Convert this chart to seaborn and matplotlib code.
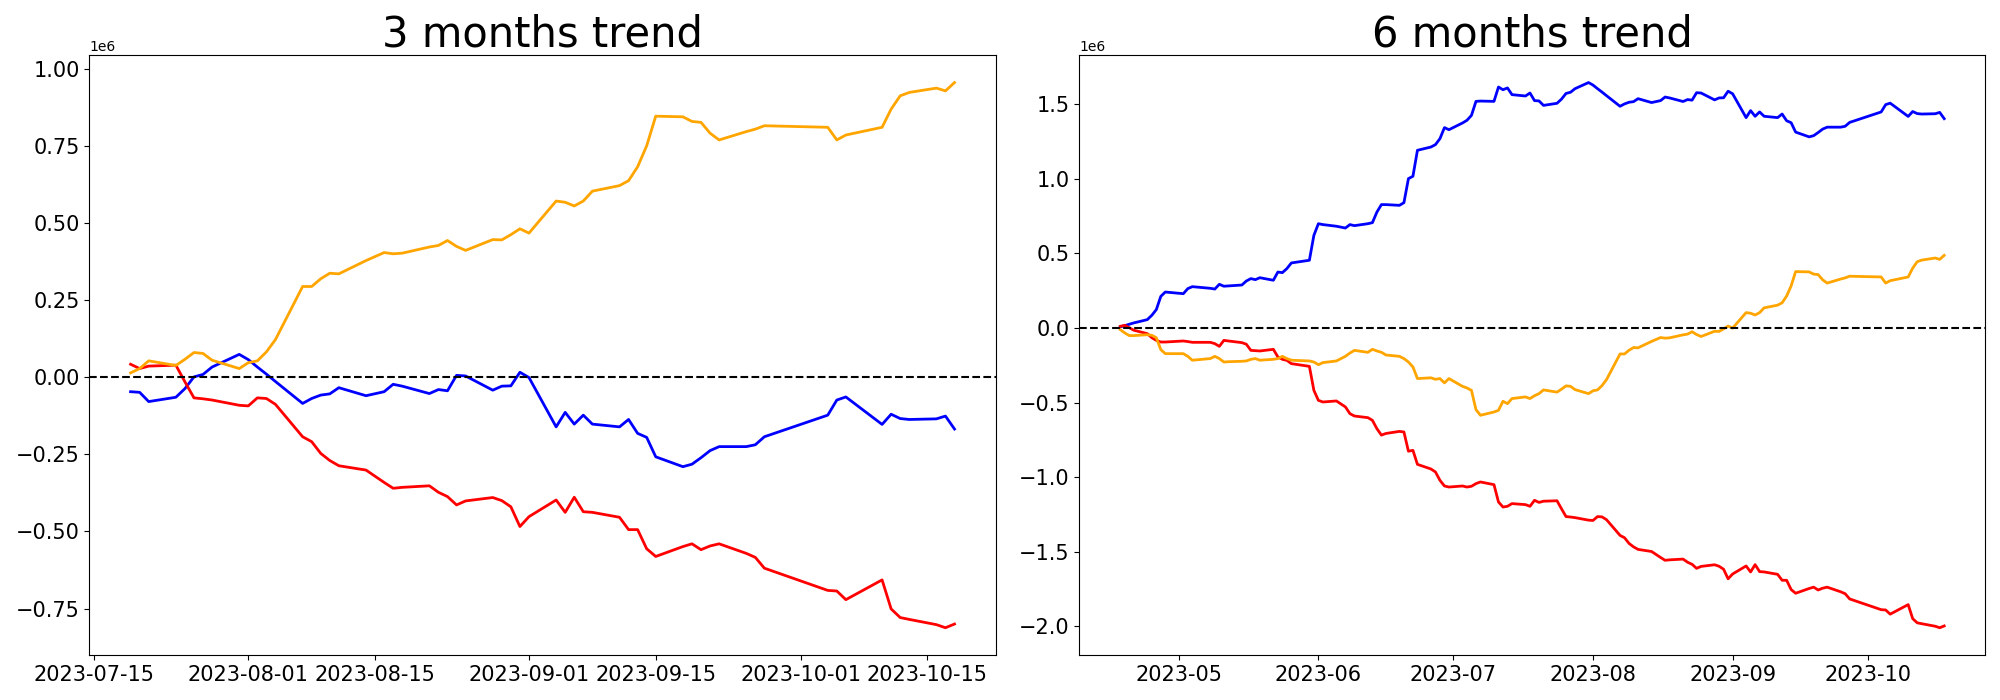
import numpy as np
import pandas as pd
import matplotlib
matplotlib.use("Agg")
import matplotlib.pyplot as plt
import seaborn as sns

# Korean exchange (KRX) trading calendar: holidays in the period
holidays = ["2023-05-01", "2023-05-05", "2023-05-29", "2023-06-06", "2023-08-15",
            "2023-09-28", "2023-09-29", "2023-10-02", "2023-10-03", "2023-10-09"]
dates_6m = pd.bdate_range("2023-04-18", "2023-10-18", freq="C", holidays=holidays)
dates_3m = dates_6m[dates_6m >= "2023-07-19"]

# ---- 3 months trend (values in millions) ----
blue_3m = [-0.047, -0.049, -0.079, -0.065, -0.037, 0.001, 0.009, 0.033, 0.074, 0.057,
           0.033, 0.010, -0.014, -0.085, -0.069, -0.058, -0.054, -0.034, -0.060,
           -0.047, -0.023, -0.029,
           -0.053, -0.040, -0.044, 0.006, 0.004,
           -0.042, -0.029, -0.028, 0.016,
           -0.001,
           -0.161, -0.114, -0.152, -0.123, -0.152,
           -0.161, -0.137, -0.182, -0.195, -0.258,
           -0.290, -0.282, -0.261, -0.238, -0.225,
           -0.225, -0.219, -0.193,
           -0.123, -0.074, -0.064,
           -0.153, -0.120, -0.134, -0.137,
           -0.135, -0.126, -0.168]
red_3m = [0.042, 0.028, 0.036, 0.039, -0.015, -0.067, -0.070, -0.074, -0.091, -0.093,
          -0.067, -0.069, -0.088, -0.193, -0.209, -0.247, -0.270, -0.287, -0.301,
          -0.341, -0.360, -0.357,
          -0.352, -0.373, -0.387, -0.414, -0.401,
          -0.390, -0.400, -0.420, -0.484,
          -0.452,
          -0.398, -0.438, -0.389, -0.436, -0.438,
          -0.454, -0.494, -0.494, -0.556, -0.581,
          -0.549, -0.540, -0.559, -0.547, -0.540,
          -0.571, -0.584, -0.619,
          -0.691, -0.693, -0.721,
          -0.657, -0.751, -0.779, -0.785,
          -0.802, -0.812, -0.800]
orange_3m = [0.014, 0.028, 0.053, 0.038, 0.058, 0.080, 0.077, 0.055, 0.028, 0.047,
             0.053, 0.082, 0.122, 0.294, 0.294, 0.319, 0.337, 0.335, 0.378,
             0.404, 0.400, 0.402,
             0.422, 0.427, 0.443, 0.424, 0.411,
             0.446, 0.445, 0.462, 0.481,
             0.467,
             0.571, 0.567, 0.555, 0.571, 0.603,
             0.621, 0.637, 0.682, 0.750, 0.846,
             0.844, 0.829, 0.826, 0.791, 0.769,
             0.796, 0.804, 0.815,
             0.810, 0.769, 0.785,
             0.810, 0.869, 0.912, 0.923,
             0.937, 0.928, 0.955]

# ---- 6 months trend (values in millions) ----
blue_6m = [0.007, 0.016, 0.025, 0.034, 0.056, 0.085, 0.123, 0.212, 0.241,
           0.230, 0.264, 0.277, 0.266, 0.261, 0.293, 0.280, 0.282, 0.288, 0.315,
           0.331, 0.324, 0.337, 0.320, 0.375, 0.371, 0.398, 0.436, 0.454, 0.621,
           0.699, 0.693, 0.682, 0.670, 0.693, 0.686, 0.699, 0.706, 0.777, 0.827,
           0.827, 0.822, 0.840, 1.001, 1.017, 1.191, 1.213, 1.229, 1.269, 1.343, 1.329,
           1.374, 1.392, 1.425, 1.519, 1.521, 1.519, 1.615, 1.597, 1.609, 1.564,
           1.555, 1.575,
           1.524, 1.522, 1.492, 1.506, 1.534, 1.572, 1.580, 1.604, 1.645, 1.628,
           1.604, 1.581, 1.557, 1.486, 1.502, 1.513, 1.517, 1.537, 1.511,
           1.524, 1.548, 1.542,
           1.518, 1.531, 1.527, 1.577, 1.575,
           1.529, 1.542, 1.543, 1.587,
           1.570,
           1.410, 1.457, 1.419, 1.448, 1.419,
           1.410, 1.434, 1.389, 1.376, 1.313,
           1.281, 1.289, 1.310, 1.333, 1.346,
           1.346, 1.352, 1.378,
           1.448, 1.497, 1.507,
           1.418, 1.451, 1.437, 1.434,
           1.436, 1.445, 1.403]
red_6m = [0.011, 0.018, 0.002, -0.015, -0.038, -0.065, -0.083, -0.094, -0.094,
          -0.087, -0.091, -0.096, -0.096, -0.105, -0.123, -0.083, -0.087, -0.098, -0.109,
          -0.150, -0.152, -0.154, -0.143, -0.194, -0.210, -0.217, -0.239, -0.257, -0.418,
          -0.485, -0.496, -0.489, -0.529, -0.574, -0.590, -0.601, -0.619, -0.675, -0.718,
          -0.707, -0.693, -0.697, -0.826, -0.820, -0.914, -0.945, -0.965, -1.021, -1.059, -1.066,
          -1.059, -1.066, -1.061, -1.043, -1.032, -1.050, -1.166, -1.200, -1.195, -1.177,
          -1.184, -1.195,
          -1.155, -1.169, -1.161, -1.158, -1.212, -1.264, -1.267, -1.271, -1.288, -1.290,
          -1.264, -1.266, -1.285, -1.390, -1.406, -1.444, -1.467, -1.484, -1.498,
          -1.538, -1.557, -1.554,
          -1.549, -1.570, -1.584, -1.611, -1.598,
          -1.587, -1.597, -1.617, -1.681,
          -1.649,
          -1.595, -1.635, -1.586, -1.633, -1.635,
          -1.651, -1.691, -1.691, -1.753, -1.778,
          -1.746, -1.737, -1.756, -1.744, -1.737,
          -1.768, -1.781, -1.816,
          -1.888, -1.890, -1.918,
          -1.854, -1.948, -1.976, -1.982,
          -1.999, -2.009, -1.997]
orange_6m = [-0.011, -0.033, -0.051, -0.051, -0.045, -0.049, -0.065, -0.145, -0.172,
             -0.172, -0.190, -0.216, -0.205, -0.190, -0.205, -0.228, -0.226, -0.223, -0.221,
             -0.210, -0.205, -0.216, -0.210, -0.205, -0.190, -0.205, -0.216, -0.221, -0.228,
             -0.246, -0.232, -0.221, -0.190, -0.168, -0.150, -0.163, -0.143, -0.154, -0.163,
             -0.181, -0.190, -0.205, -0.228, -0.261, -0.339, -0.334, -0.344, -0.339, -0.368, -0.339,
             -0.391, -0.402, -0.418, -0.547, -0.585, -0.563, -0.552, -0.491, -0.507, -0.473,
             -0.462, -0.473,
             -0.454, -0.440, -0.415, -0.430, -0.410, -0.388, -0.391, -0.413, -0.440, -0.421,
             -0.415, -0.386, -0.346, -0.174, -0.174, -0.149, -0.131, -0.133, -0.090,
             -0.064, -0.068, -0.066,
             -0.046, -0.041, -0.025, -0.044, -0.057,
             -0.022, -0.023, -0.006, 0.013,
             -0.001,
             0.103, 0.099, 0.087, 0.103, 0.135,
             0.153, 0.169, 0.214, 0.282, 0.378,
             0.376, 0.361, 0.358, 0.323, 0.301,
             0.328, 0.336, 0.347,
             0.342, 0.301, 0.317,
             0.342, 0.401, 0.444, 0.455,
             0.469, 0.460, 0.487]

series_names = ["blue", "red", "orange"]
palette = {"blue": "blue", "red": "red", "orange": "orange"}


def long_frame(dates, blue, red, orange):
    parts = []
    for name, vals in zip(series_names, [blue, red, orange]):
        parts.append(pd.DataFrame({"date": dates, "value": np.asarray(vals) * 1e6,
                                   "series": name}))
    return pd.concat(parts, ignore_index=True)


df3 = long_frame(dates_3m, blue_3m, red_3m, orange_3m)
df6 = long_frame(dates_6m, blue_6m, red_6m, orange_6m)

fig, axes = plt.subplots(1, 2, figsize=(20, 7), dpi=100)
fig.subplots_adjust(left=0.0447, right=0.9927, bottom=0.0643, top=0.921, wspace=0.092)

for ax, df, title in [(axes[0], df3, "3 months trend"), (axes[1], df6, "6 months trend")]:
    sns.lineplot(data=df, x="date", y="value", hue="series", hue_order=series_names,
                 palette=palette, linewidth=2, legend=False, ax=ax, estimator=None)
    ax.axhline(0, color="black", linestyle="--", linewidth=1.5)
    ax.set_title(title, fontsize=30)
    ax.set_xlabel("")
    ax.set_ylabel("")
    ax.tick_params(axis="both", labelsize=15)

fig.savefig("out.png", dpi=100)
